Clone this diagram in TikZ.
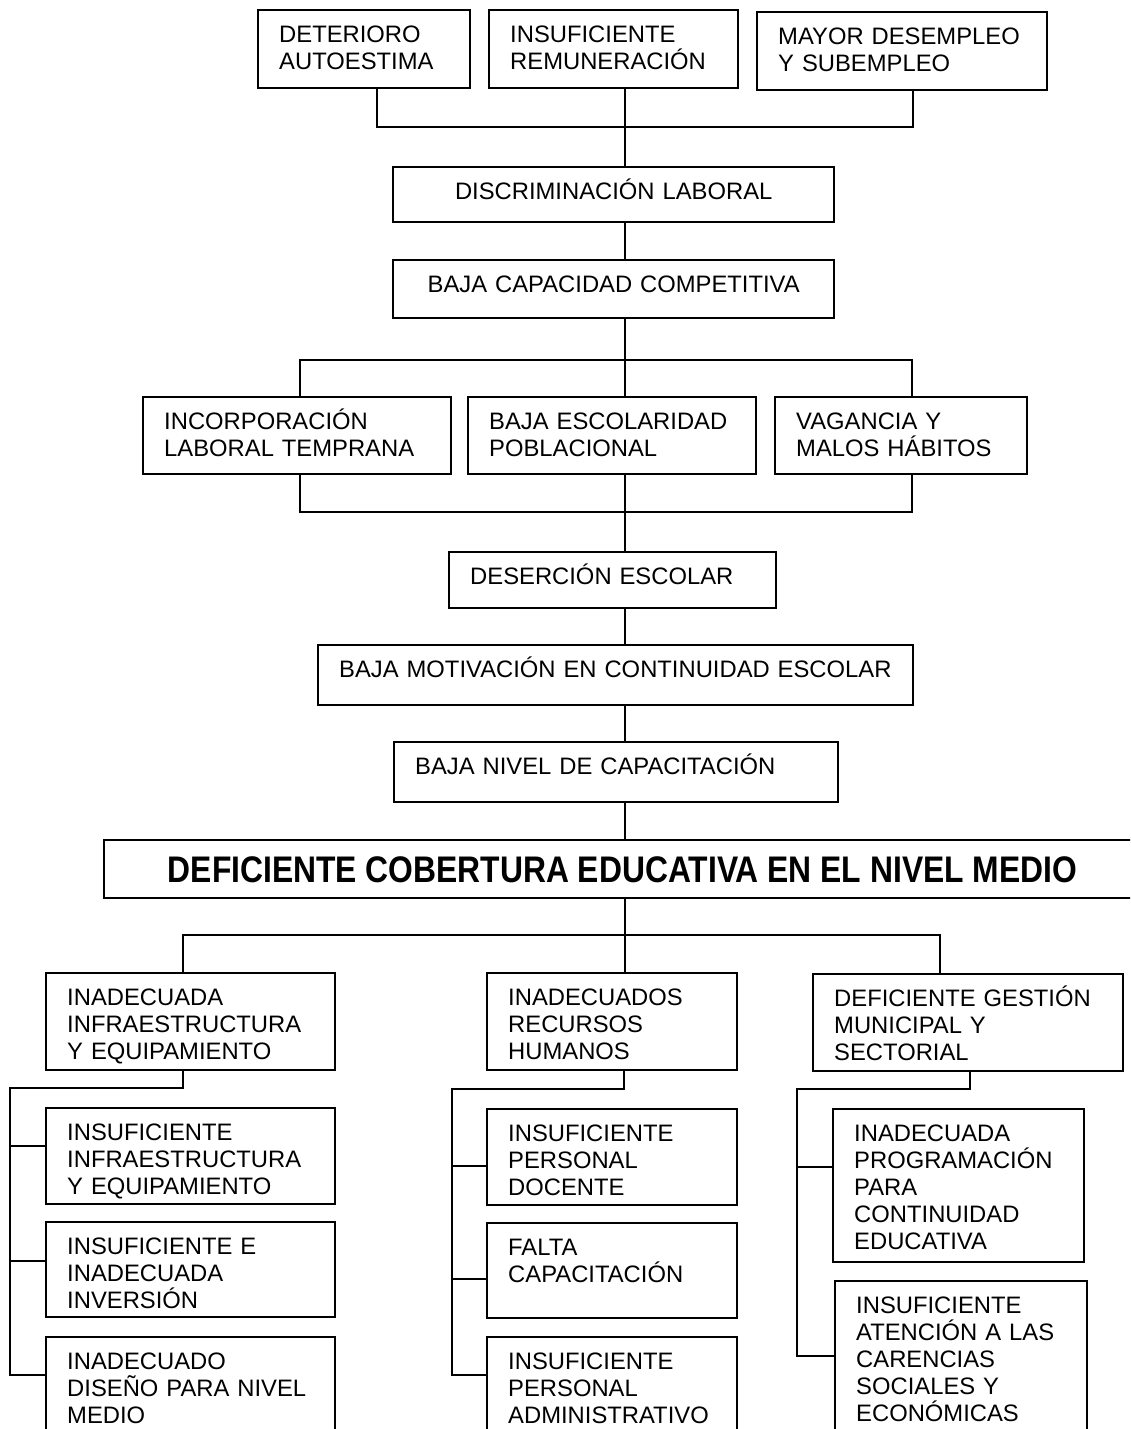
\documentclass[tikz,border=0pt]{standalone}
\usepackage{fontspec}
\setmainfont{Liberation Sans}
\newfontfamily\headfont{Liberation Sans}[FakeStretch=0.86]
\begin{document}
\begin{tikzpicture}[x=1pt,y=-1pt,
  box/.style={draw, line width=1.8pt, rectangle, inner sep=0pt},
  txt/.style={inner sep=0pt, anchor=north west, font=\fontsize{23.8}{27}\selectfont},
  conn/.style={line width=1.8pt}]
\clip (0,0) rectangle (1130,1429);
\fill[white] (0,0) rectangle (1130,1429);
\newcommand\bx[7]{%
  \pgfmathsetmacro\tw{#4-42}%
  \node[box, minimum width=#4pt, minimum height=#5pt] (#1) at ({#2+#4/2},{#3+#5/2}) {};
  \node[txt, text width=\tw pt, align=#6] (#1-t) at ({#2+21},{#3+9.2}) {\rule{0pt}{23pt}#7};}
% top row
\bx{b1}{258}{10}{212}{78}{left}{DETERIORO\\AUTOESTIMA}
\bx{b2}{489}{10}{249}{78}{left}{INSUFICIENTE\\REMUNERACIÓN}
\bx{b3}{757}{12}{290}{78}{left}{MAYOR DESEMPLEO\\Y SUBEMPLEO}
\bx{disc}{393}{167}{441}{55}{center}{DISCRIMINACIÓN LABORAL}
\bx{cap}{393}{260}{441}{58}{center}{BAJA CAPACIDAD COMPETITIVA}
\bx{m1}{143}{397}{308}{77}{left}{INCORPORACIÓN\\LABORAL TEMPRANA}
\bx{m2}{468}{397}{288}{77}{left}{BAJA ESCOLARIDAD\\POBLACIONAL}
\bx{m3}{775}{397}{252}{77}{left}{VAGANCIA Y\\MALOS HÁBITOS}
\bx{des}{449}{552}{327}{56}{left}{DESERCIÓN ESCOLAR}
\bx{mot}{318}{645}{595}{60}{left}{BAJA MOTIVACIÓN EN CONTINUIDAD ESCOLAR}
\bx{niv}{394}{742}{444}{60}{left}{BAJA NIVEL DE CAPACITACIÓN}
\node[box, minimum width=1040pt, minimum height=58pt] (head) at (624,869) {};
\node[font=\headfont\bfseries\fontsize{37}{40}\selectfont, inner sep=0pt]
  (headtxt) at (622.5,870) {DEFICIENTE COBERTURA EDUCATIVA EN EL NIVEL MEDIO};
% lower
\bx{l0}{46}{973}{289}{97}{left}{INADECUADA\\INFRAESTRUCTURA\\Y EQUIPAMIENTO}
\bx{c0}{487}{973}{250}{97}{left}{INADECUADOS\\RECURSOS\\HUMANOS}
\bx{r0}{813}{974}{310}{97}{left}{DEFICIENTE GESTIÓN\\MUNICIPAL Y\\SECTORIAL}
\bx{l1}{46}{1108}{289}{96}{left}{INSUFICIENTE\\INFRAESTRUCTURA\\Y EQUIPAMIENTO}
\bx{l2}{46}{1222}{289}{95}{left}{INSUFICIENTE E\\INADECUADA\\INVERSIÓN}
\bx{l3}{46}{1337}{289}{97}{left}{INADECUADO\\DISEÑO PARA NIVEL\\MEDIO}
\bx{c1}{487}{1109}{250}{96}{left}{INSUFICIENTE\\PERSONAL\\DOCENTE}
\bx{c2}{487}{1223}{250}{95}{left}{FALTA\\CAPACITACIÓN}
\bx{c3}{487}{1337}{250}{97}{left}{INSUFICIENTE\\PERSONAL\\ADMINISTRATIVO}
\bx{r1}{833}{1109}{251}{153}{left}{INADECUADA\\PROGRAMACIÓN\\PARA\\CONTINUIDAD\\EDUCATIVA}
\bx{r2}{835}{1281}{252}{153}{left}{INSUFICIENTE\\ATENCIÓN A LAS\\CARENCIAS\\SOCIALES Y\\ECONÓMICAS}
% connector coordinates
\coordinate (s) at (625,0);
\coordinate (t1) at (377,127);
\coordinate (t3) at (913,127);
\coordinate (u1) at (300,360);
\coordinate (u3) at (912,360);
\coordinate (v1) at (300,512);
\coordinate (v3) at (912,512);
\coordinate (w1) at (183,935);
\coordinate (w2) at (625,935);
\coordinate (w3) at (940,935);
\coordinate (La) at (183,1088);
\coordinate (Lb) at (10,1088);
\coordinate (L1) at (10,1146);
\coordinate (L2) at (10,1261);
\coordinate (L3) at (10,1375);
\coordinate (Ca) at (624,1089);
\coordinate (Cb) at (452,1089);
\coordinate (C1) at (452,1166);
\coordinate (C2) at (452,1279);
\coordinate (C3) at (452,1375);
\coordinate (Ra) at (970,1089);
\coordinate (Rb) at (797,1089);
\coordinate (R1) at (797,1167);
\coordinate (R2) at (797,1356);
% connectors
\draw[conn] (b1.south -| t1) -- (t1) -- (t3) -- (b3.south -| t3);
\draw[conn] (b2.south -| s) -- (disc.north -| s);
\draw[conn] (disc.south -| s) -- (cap.north -| s);
\draw[conn] (cap.south -| s) -- (m2.north -| s);
\draw[conn] (m1.north -| u1) -- (u1) -- (u3) -- (m3.north -| u3);
\draw[conn] (m1.south -| v1) -- (v1) -- (v3) -- (m3.south -| v3);
\draw[conn] (m2.south -| s) -- (des.north -| s);
\draw[conn] (des.south -| s) -- (mot.north -| s);
\draw[conn] (mot.south -| s) -- (niv.north -| s);
\draw[conn] (niv.south -| s) -- (head.north -| s);
\draw[conn] (head.south -| w2) -- (c0.north -| w2);
\draw[conn] (l0.north -| w1) -- (w1) -- (w3) -- (r0.north -| w3);
\draw[conn] (l0.south -| La) -- (La) -- (Lb) -- (L3) -- (l3.west |- L3);
\draw[conn] (L1) -- (l1.west |- L1);
\draw[conn] (L2) -- (l2.west |- L2);
\draw[conn] (c0.south -| Ca) -- (Ca) -- (Cb) -- (C3) -- (c3.west |- C3);
\draw[conn] (C1) -- (c1.west |- C1);
\draw[conn] (C2) -- (c2.west |- C2);
\draw[conn] (r0.south -| Ra) -- (Ra) -- (Rb) -- (R2) -- (r2.west |- R2);
\draw[conn] (R1) -- (r1.west |- R1);
\end{tikzpicture}
\end{document}
